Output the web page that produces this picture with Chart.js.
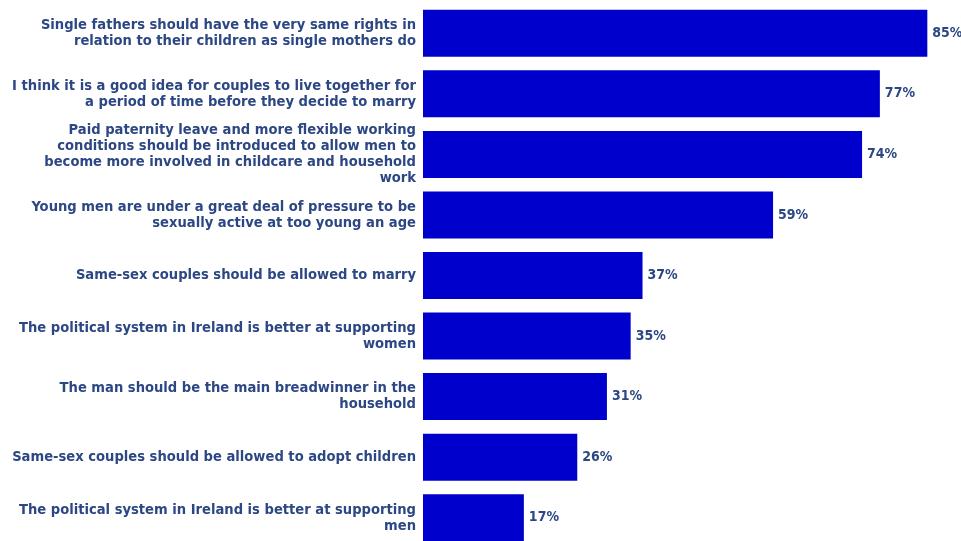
<!DOCTYPE html>
<html lang="en">
<head>
  <meta charset="UTF-8" />
  <title>Attitudes survey</title>
  <script src="https://cdn.jsdelivr.net/npm/chart.js"></script>
  <style>
    body { margin: 0; overflow: hidden; background: #fff; }
  </style>
</head>
<body>
  <canvas id="chart" width="961" height="551"></canvas>

  <script>
    // statements (pre-wrapped like the original)
    const statements = [
      ["Single fathers should have the very same rights in", "relation to their children as single mothers do"],
      ["I think it is a good idea for couples to live together for", "a period of time before they decide to marry"],
      ["Paid paternity leave and more flexible working", "conditions should be introduced to allow men to", "become more involved in childcare and household", "work"],
      ["Young men are under a great deal of pressure to be", "sexually active at too young an age"],
      "Same-sex couples should be allowed to marry",
      ["The political system in Ireland is better at supporting", "women"],
      ["The man should be the main breadwinner in the", "household"],
      "Same-sex couples should be allowed to adopt children",
      ["The political system in Ireland is better at supporting", "men"]
    ];
    const agreePct = [85, 77, 74, 59, 37, 35, 31, 26, 17];

    const textColor = '#2c4784';
    const fontFamily = "'DejaVu Sans Condensed', 'DejaVu Sans', sans-serif";

    // draws "85%" etc just after each bar
    const valueLabels = {
      id: 'valueLabels',
      afterDatasetsDraw(chart) {
        const ctx = chart.ctx;
        const meta = chart.getDatasetMeta(0);
        ctx.save();
        ctx.fillStyle = textColor;
        ctx.font = 'bold 14px ' + fontFamily;
        ctx.textAlign = 'left';
        ctx.textBaseline = 'middle';
        meta.data.forEach((bar, i) => {
          ctx.fillText(agreePct[i] + '%', bar.x + 5, bar.y);
        });
        ctx.restore();
      }
    };

    new Chart(document.getElementById('chart'), {
      type: 'bar',
      data: {
        labels: statements,
        datasets: [{
          data: agreePct,
          backgroundColor: '#0000cc',
          categoryPercentage: 0.776,
          barPercentage: 1
        }]
      },
      options: {
        indexAxis: 'y',
        responsive: false,
        animation: false,
        layout: { padding: { top: 3, bottom: 3, right: 4 } },
        plugins: {
          legend: { display: false },
          tooltip: { enabled: false }
        },
        scales: {
          x: {
            display: false,
            min: 0,
            max: 90
          },
          y: {
            grid: { display: false, drawTicks: false },
            border: { display: false },
            ticks: {
              color: textColor,
              font: { family: fontFamily, size: 14.6, weight: 'bold', lineHeight: '16px' },
              padding: 7,
              autoSkip: false
            },
            afterFit(scale) {
              scale.width = 423;
              // no extra room for the first/last label, bars fill the height
              scale.paddingTop = 0;
              scale.paddingBottom = 0;
            }
          }
        }
      },
      plugins: [valueLabels]
    });
  </script>
</body>
</html>
